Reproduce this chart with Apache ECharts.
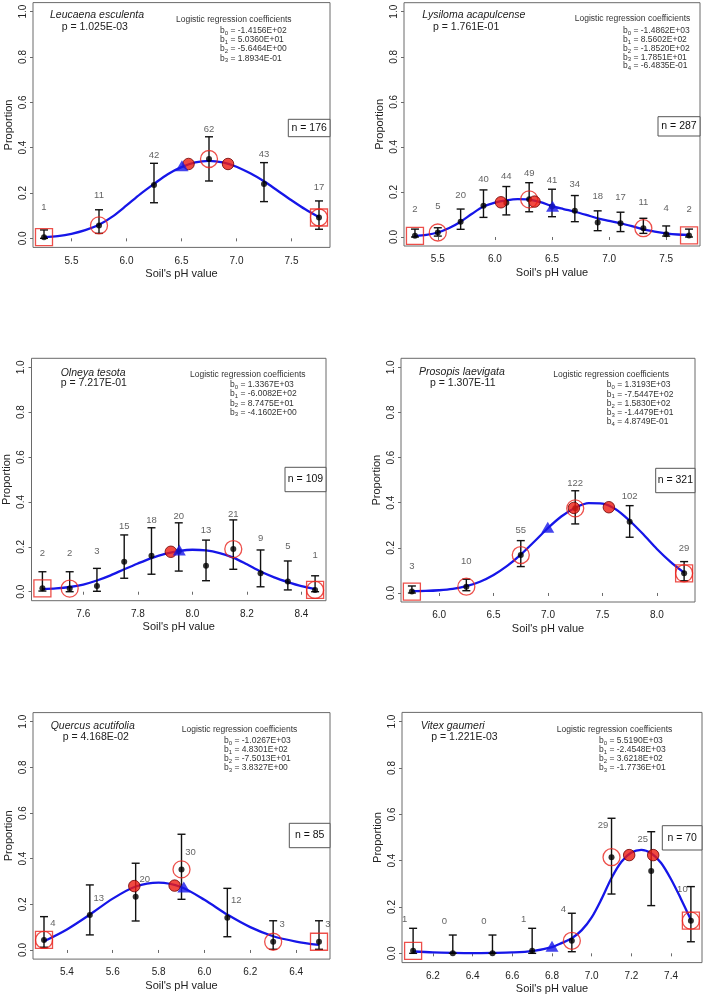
<!DOCTYPE html>
<html><head><meta charset="utf-8">
<script src="https://cdn.jsdelivr.net/npm/echarts@6/dist/echarts.min.js"></script>
<style>html,body{margin:0;padding:0;background:#fff}#c{width:709px;height:996px}</style>
</head><body><div id="c"></div>
<script>
// ---------- DATA ----------
const yTicks = [0, 0.2, 0.4, 0.6, 0.8, 1.0];

// Panel 1: Leucaena esculenta
const p1Species = 'Leucaena esculenta';
const p1P = 'p = 1.025E-03';
const p1Coef = ['-1.4156E+02', '5.0360E+01', '-5.6464E+00', '1.8934E-01'];
const p1N = 176;
const p1XTicks = [5.5, 6.0, 6.5, 7.0, 7.5];
const p1Ph = [5.25, 5.75, 6.25, 6.75, 7.25, 7.75];
const p1Obs = [0.005, 0.057, 0.235, 0.35, 0.24, 0.092];
const p1Lo = [0.0, 0.022, 0.157, 0.253, 0.162, 0.04];
const p1Hi = [0.037, 0.126, 0.331, 0.448, 0.334, 0.165];
const p1Count = [1, 11, 42, 62, 43, 17];
const p1CurveX = [5.25,5.375,5.5,5.625,5.75,5.875,6.0,6.125,6.25,6.375,6.5,6.625,6.75,6.875,7.0,7.125,7.25,7.375,7.5,7.625,7.75];
const p1CurveY = [0.005,0.01,0.02,0.036,0.06,0.097,0.145,0.195,0.24,0.283,0.314,0.335,0.342,0.335,0.316,0.287,0.252,0.21,0.168,0.128,0.093];
const p1Circled = [5.75, 6.75, 7.75];
const p1Boxed = [5.25, 7.75];
const p1PeakX = [6.564, 6.923];
const p1PeakY = [0.328, 0.328];
const p1TriX = [6.504];
const p1TriY = [0.32];

// Panel 2: Lysiloma acapulcense
const p2Species = 'Lysiloma acapulcense';
const p2P = 'p = 1.761E-01';
const p2Coef = ['-1.4862E+03', '8.5602E+02', '-1.8520E+02', '1.7851E+01', '-6.4835E-01'];
const p2N = 287;
const p2XTicks = [5.5, 6.0, 6.5, 7.0, 7.5];
const p2Ph = [5.3, 5.5, 5.7, 5.9, 6.1, 6.3, 6.5, 6.7, 6.9, 7.1, 7.3, 7.5, 7.7];
const p2Obs = [0.005, 0.02, 0.068, 0.139, 0.152, 0.167, 0.135, 0.116, 0.064, 0.061, 0.039, 0.012, 0.007];
const p2Lo = [0.0, 0.004, 0.034, 0.087, 0.098, 0.112, 0.09, 0.068, 0.028, 0.024, 0.016, 0.004, 0.0];
const p2Hi = [0.035, 0.041, 0.124, 0.209, 0.224, 0.241, 0.212, 0.184, 0.116, 0.11, 0.083, 0.049, 0.035];
const p2Count = [2, 5, 20, 40, 44, 49, 41, 34, 18, 17, 11, 4, 2];
const p2CurveX = [5.3,5.4,5.5,5.6,5.7,5.8,5.9,6.0,6.1,6.2,6.3,6.4,6.5,6.6,6.7,6.8,6.9,7.0,7.1,7.2,7.3,7.4,7.5,7.6,7.7];
const p2CurveY = [0.004,0.009,0.02,0.04,0.068,0.103,0.135,0.153,0.163,0.168,0.166,0.155,0.137,0.124,0.112,0.098,0.083,0.072,0.061,0.048,0.034,0.024,0.016,0.011,0.009];
const p2Circled = [5.5, 6.3, 7.3];
const p2Boxed = [5.3, 7.7];
const p2PeakX = [6.053, 6.347];
const p2PeakY = [0.154, 0.157];
const p2TriX = [6.505];
const p2TriY = [0.137];

// Panel 3: Olneya tesota
const p3Species = 'Olneya tesota';
const p3P = 'p = 7.217E-01';
const p3Coef = ['1.3367E+03', '-6.0082E+02', '8.7475E+01', '-4.1602E+00'];
const p3N = 109;
const p3XTicks = [7.6, 7.8, 8.0, 8.2, 8.4];
const p3Ph = [7.45, 7.55, 7.65, 7.75, 7.85, 7.95, 8.05, 8.15, 8.25, 8.35, 8.45];
const p3Obs = [0.015, 0.014, 0.025, 0.134, 0.16, 0.18, 0.116, 0.19, 0.082, 0.045, 0.008];
const p3Lo = [0.003, 0.0, 0.002, 0.06, 0.078, 0.092, 0.049, 0.1, 0.022, 0.008, 0.0];
const p3Hi = [0.089, 0.089, 0.104, 0.253, 0.285, 0.307, 0.23, 0.32, 0.186, 0.137, 0.071];
const p3Count = [2, 2, 3, 15, 18, 20, 13, 21, 9, 5, 1];
const p3CurveX = [7.45,7.5,7.55,7.6,7.65,7.7,7.75,7.8,7.85,7.9,7.95,8.0,8.05,8.1,8.15,8.2,8.25,8.3,8.35,8.4,8.45];
const p3CurveY = [0.012,0.015,0.021,0.032,0.05,0.073,0.1,0.126,0.15,0.169,0.181,0.187,0.184,0.172,0.152,0.122,0.09,0.064,0.043,0.025,0.012];
const p3Circled = [7.55, 8.15, 8.45];
const p3Boxed = [7.45, 8.45];
const p3PeakX = [7.921];
const p3PeakY = [0.178];
const p3TriX = [7.952];
const p3TriY = [0.186];

// Panel 4: Prosopis laevigata
const p4Species = 'Prosopis laevigata';
const p4P = 'p = 1.307E-11';
const p4Coef = ['1.3193E+03', '-7.5447E+02', '1.5830E+02', '-1.4479E+01', '4.8749E-01'];
const p4N = 321;
const p4XTicks = [6.0, 6.5, 7.0, 7.5, 8.0];
const p4Ph = [5.75, 6.25, 6.75, 7.25, 7.75, 8.25];
const p4Obs = [0.006, 0.028, 0.168, 0.375, 0.316, 0.087];
const p4Lo = [0.0, 0.01, 0.117, 0.306, 0.247, 0.054];
const p4Hi = [0.031, 0.061, 0.232, 0.453, 0.387, 0.139];
const p4Count = [3, 10, 55, 122, 102, 29];
const p4CurveX = [5.75,5.875,6.0,6.125,6.25,6.375,6.5,6.625,6.75,6.875,7.0,7.125,7.25,7.375,7.5,7.625,7.75,7.875,8.0,8.125,8.25];
const p4CurveY = [0.008,0.009,0.012,0.018,0.03,0.05,0.08,0.12,0.17,0.228,0.288,0.34,0.378,0.398,0.396,0.37,0.32,0.26,0.195,0.138,0.09];
const p4Circled = [6.25, 6.75, 7.25, 8.25];
const p4Boxed = [5.75, 8.25];
const p4PeakX = [7.238, 7.559];
const p4PeakY = [0.377, 0.38];
const p4TriX = [6.998];
const p4TriY = [0.291];

// Panel 5: Quercus acutifolia
const p5Species = 'Quercus acutifolia';
const p5P = 'p = 4.168E-02';
const p5Coef = ['-1.0267E+03', '4.8301E+02', '-7.5013E+01', '3.8327E+00'];
const p5N = 85;
const p5XTicks = [5.4, 5.6, 5.8, 6.0, 6.2, 6.4];
const p5Ph = [5.3, 5.5, 5.7, 5.9, 6.1, 6.3, 6.5];
const p5Obs = [0.044, 0.153, 0.233, 0.353, 0.141, 0.036, 0.036];
const p5Lo = [0.012, 0.066, 0.127, 0.222, 0.058, 0.003, 0.003];
const p5Hi = [0.146, 0.285, 0.38, 0.507, 0.27, 0.128, 0.128];
const p5Count = [4, 13, 20, 30, 12, 3, 3];
const p5CurveX = [5.3,5.4,5.5,5.6,5.7,5.8,5.9,6.0,6.1,6.2,6.3,6.4,6.5];
const p5CurveY = [0.038,0.09,0.155,0.225,0.278,0.295,0.275,0.22,0.155,0.1,0.06,0.037,0.022];
const p5Circled = [5.3, 5.9, 6.3];
const p5Boxed = [5.3, 6.5];
const p5PeakX = [5.694, 5.87];
const p5PeakY = [0.28, 0.282];
const p5TriX = [5.91];
const p5TriY = [0.276];

// Panel 6: Vitex gaumeri
const p6Species = 'Vitex gaumeri';
const p6P = 'p = 1.221E-03';
const p6Coef = ['5.5190E+03', '-2.4548E+03', '3.6218E+02', '-1.7736E+01'];
const p6N = 70;
const p6XTicks = [6.2, 6.4, 6.6, 6.8, 7.0, 7.2, 7.4];
const p6Ph = [6.1, 6.3, 6.5, 6.7, 6.9, 7.1, 7.3, 7.5];
const p6Obs = [0.011, 0.0, 0.0, 0.011, 0.054, 0.415, 0.355, 0.141];
const p6Lo = [0.0, 0.0, 0.0, 0.0, 0.007, 0.256, 0.206, 0.05];
const p6Hi = [0.108, 0.079, 0.079, 0.108, 0.173, 0.583, 0.525, 0.288];
const p6Count = [1, 0, 0, 1, 4, 29, 25, 10];
const p6CurveX = [6.1,6.2,6.3,6.4,6.5,6.6,6.7,6.8,6.85,6.9,6.95,7.0,7.05,7.1,7.15,7.2,7.25,7.3,7.35,7.4,7.45,7.5];
const p6CurveY = [0.008,0.004,0.002,0.001,0.002,0.004,0.01,0.027,0.045,0.065,0.1,0.155,0.235,0.325,0.395,0.435,0.447,0.432,0.39,0.32,0.235,0.145];
const p6Circled = [6.9, 7.1, 7.5];
const p6Boxed = [6.1, 7.5];
const p6PeakX = [7.189, 7.31];
const p6PeakY = [0.424, 0.424];
const p6TriX = [6.8];
const p6TriY = [0.031];

// ---------- LAYOUT / STYLE ----------
const FONT = '"Liberation Sans", Arial, Helvetica, sans-serif';
const layouts = [
  {box:[33, 2.6, 330, 247.4], xr:[5.15, 7.85], lab:{align:'center', off:[0,-30]},
   sp:[50,15], pv:[61.7,26.7], ct:[176,19.3], cf:[220,30.7,9.2], nb:[288.3,119.3,330,136.7]},
  {box:[404, 2.7, 700, 246], xr:[5.204, 7.796], lab:{align:'center', off:[0,-26]},
   sp:[422.3,15], pv:[433,26.7], ct:[574.7,19], cf:[623,30.7,8.85], nb:[658,116.7,700,136]},
  {box:[31.5, 358.3, 326, 600.7], xr:[7.41, 8.49], lab:{align:'center', off:[0,-35]},
   sp:[60.7,372.7], pv:[60.7,383.3], ct:[190,374.3], cf:[230,385,9.1], nb:[285,467.3,326,491.7]},
  {box:[401, 358.3, 695, 602], xr:[5.65, 8.35], lab:{align:'center', off:[0,-25]},
   sp:[419,371.7], pv:[430,383.3], ct:[553.3,374.3], cf:[606.7,385,9.2], nb:[655.7,468.3,695,492.7]},
  {box:[33, 712.6, 330, 959.1], xr:[5.252, 6.548], lab:{align:'center', off:[9,-17]},
   sp:[50.7,725.7], pv:[62.7,737.3], ct:[181.7,729.3], cf:[224,741,8.9], nb:[289.3,823.3,330,847.7]},
  {box:[402, 712.4, 702, 962.6], xr:[6.044, 7.556], lab:{align:'center', off:[-8.5,-31.7]},
   sp:[420.7,725.7], pv:[431.3,737.3], ct:[556.7,729.3], cf:[599,741,9], nb:[662.3,825.7,702,850]}
];

const panels = [
  {sp:p1Species,p:p1P,coef:p1Coef,n:p1N,xt:p1XTicks,ph:p1Ph,obs:p1Obs,lo:p1Lo,hi:p1Hi,cnt:p1Count,cx:p1CurveX,cy:p1CurveY,circ:p1Circled,boxd:p1Boxed,pkx:p1PeakX,pky:p1PeakY,tx:p1TriX,ty:p1TriY},
  {sp:p2Species,p:p2P,coef:p2Coef,n:p2N,xt:p2XTicks,ph:p2Ph,obs:p2Obs,lo:p2Lo,hi:p2Hi,cnt:p2Count,cx:p2CurveX,cy:p2CurveY,circ:p2Circled,boxd:p2Boxed,pkx:p2PeakX,pky:p2PeakY,tx:p2TriX,ty:p2TriY},
  {sp:p3Species,p:p3P,coef:p3Coef,n:p3N,xt:p3XTicks,ph:p3Ph,obs:p3Obs,lo:p3Lo,hi:p3Hi,cnt:p3Count,cx:p3CurveX,cy:p3CurveY,circ:p3Circled,boxd:p3Boxed,pkx:p3PeakX,pky:p3PeakY,tx:p3TriX,ty:p3TriY},
  {sp:p4Species,p:p4P,coef:p4Coef,n:p4N,xt:p4XTicks,ph:p4Ph,obs:p4Obs,lo:p4Lo,hi:p4Hi,cnt:p4Count,cx:p4CurveX,cy:p4CurveY,circ:p4Circled,boxd:p4Boxed,pkx:p4PeakX,pky:p4PeakY,tx:p4TriX,ty:p4TriY},
  {sp:p5Species,p:p5P,coef:p5Coef,n:p5N,xt:p5XTicks,ph:p5Ph,obs:p5Obs,lo:p5Lo,hi:p5Hi,cnt:p5Count,cx:p5CurveX,cy:p5CurveY,circ:p5Circled,boxd:p5Boxed,pkx:p5PeakX,pky:p5PeakY,tx:p5TriX,ty:p5TriY},
  {sp:p6Species,p:p6P,coef:p6Coef,n:p6N,xt:p6XTicks,ph:p6Ph,obs:p6Obs,lo:p6Lo,hi:p6Hi,cnt:p6Count,cx:p6CurveX,cy:p6CurveY,circ:p6Circled,boxd:p6Boxed,pkx:p6PeakX,pky:p6PeakY,tx:p6TriX,ty:p6TriY}
];

const AXC = '#6a6a6a', TXT = '#222', RED = '#e8231d', BLUE = '#1616e8';
const grids = [], xAxes = [], yAxes = [], series = [], graphics = [];
const zip = (a, b) => a.map((v, i) => [v, b[i]]);

panels.forEach((P, i) => {
  const L = layouts[i];
  const [x0, y0, x1, y1] = L.box;
  grids.push({left: x0, top: y0, width: x1 - x0, height: y1 - y0, show: true,
    borderColor: AXC, borderWidth: 1, backgroundColor: 'transparent',
    containLabel: false, outerBoundsMode: 'none'});
  xAxes.push({type: 'value', gridIndex: i, min: L.xr[0], max: L.xr[1],
    axisLine: {show: false}, splitLine: {show: false},
    axisTick: {show: true, customValues: P.xt, length: 3, lineStyle: {color: AXC}},
    axisLabel: {customValues: P.xt, formatter: v => v.toFixed(1), fontSize: 10, color: TXT, fontFamily: FONT, margin: 8.5},
    name: "Soil's pH value", nameLocation: 'middle', nameGap: 21, nameMoveOverlap: false,
    nameTextStyle: {fontSize: 11, color: TXT, fontFamily: FONT}});
  yAxes.push({type: 'value', gridIndex: i, min: -0.04, max: 1.04,
    axisLine: {show: false}, splitLine: {show: false},
    axisTick: {show: true, customValues: yTicks, length: 3, lineStyle: {color: AXC}},
    axisLabel: {customValues: yTicks, rotate: 90, formatter: v => v.toFixed(1), fontSize: 10, color: TXT, fontFamily: FONT, margin: 5},
    name: 'Proportion', nameLocation: 'middle', nameGap: 19, nameMoveOverlap: false,
    nameTextStyle: {fontSize: 11, color: TXT, fontFamily: FONT}});

  const obsAt = x => P.obs[P.ph.indexOf(x)];
  // fitted curve
  series.push({type: 'line', xAxisIndex: i, yAxisIndex: i, data: zip(P.cx, P.cy), smooth: 0.3,
    symbol: 'none', lineStyle: {color: BLUE, width: 2.3}, z: 2, silent: true, animation: false});
  // error bars
  series.push({type: 'custom', xAxisIndex: i, yAxisIndex: i, z: 3, animation: false,
    data: P.ph.map((x, k) => [x, P.lo[k], P.hi[k]]),
    encode: {x: 0, y: [1, 2]},
    renderItem: (params, api) => {
      const a = api.coord([api.value(0), api.value(1)]);
      const b = api.coord([api.value(0), api.value(2)]);
      const w = 4, st = {stroke: '#111', lineWidth: 1.4};
      return {type: 'group', children: [
        {type: 'line', shape: {x1: a[0], y1: a[1], x2: b[0], y2: b[1]}, style: st},
        {type: 'line', shape: {x1: a[0] - w, y1: a[1], x2: a[0] + w, y2: a[1]}, style: st},
        {type: 'line', shape: {x1: b[0] - w, y1: b[1], x2: b[0] + w, y2: b[1]}, style: st}
      ]};
    }});
  // observed points
  series.push({type: 'scatter', xAxisIndex: i, yAxisIndex: i, data: zip(P.ph, P.obs), symbolSize: 6,
    itemStyle: {color: '#000'}, z: 4, animation: false});
  // hollow circles
  series.push({type: 'scatter', xAxisIndex: i, yAxisIndex: i, data: P.circ.map(x => [x, obsAt(x)]),
    symbol: 'circle', symbolSize: 17, itemStyle: {color: 'rgba(0,0,0,0)', borderColor: RED, borderWidth: 1.3}, z: 5, animation: false});
  // squares
  series.push({type: 'scatter', xAxisIndex: i, yAxisIndex: i, data: P.boxd.map(x => [x, obsAt(x)]),
    symbol: 'rect', symbolSize: 17, itemStyle: {color: 'rgba(0,0,0,0)', borderColor: RED, borderWidth: 1.3}, z: 5, animation: false});
  // filled red
  series.push({type: 'scatter', xAxisIndex: i, yAxisIndex: i, data: zip(P.pkx, P.pky),
    symbol: 'circle', symbolSize: 11.5, itemStyle: {color: '#ee1b12', borderColor: '#6e0000', borderWidth: 1}, z: 6, animation: false});
  // blue triangle
  series.push({type: 'scatter', xAxisIndex: i, yAxisIndex: i, data: zip(P.tx, P.ty),
    symbol: 'triangle', symbolSize: [13, 11], itemStyle: {color: BLUE}, z: 7, animation: false});
  // count labels
  series.push({type: 'scatter', xAxisIndex: i, yAxisIndex: i, data: zip(P.ph, P.obs), symbolSize: 1,
    itemStyle: {color: 'rgba(0,0,0,0)'}, z: 8, animation: false, silent: true,
    label: {show: true, position: 'inside', offset: L.lab.off, align: L.lab.align, verticalAlign: 'middle',
      formatter: p => String(P.cnt[p.dataIndex]), fontSize: 9.5, color: '#3a3a3a', fontFamily: FONT}});

  // text annotations
  graphics.push({type: 'text', x: L.sp[0], y: L.sp[1], z: 20,
    style: {text: P.sp, fontSize: 10.5, fontStyle: 'italic', fontFamily: FONT, fill: TXT, align: 'left', verticalAlign: 'middle'}});
  graphics.push({type: 'text', x: L.pv[0], y: L.pv[1], z: 20,
    style: {text: P.p, fontSize: 10.5, fontFamily: FONT, fill: TXT, align: 'left', verticalAlign: 'middle'}});
  graphics.push({type: 'text', x: L.ct[0], y: L.ct[1], z: 20,
    style: {text: 'Logistic regression coefficients', fontSize: 8.5, fontFamily: FONT, fill: '#333', align: 'left', verticalAlign: 'middle'}});
  P.coef.forEach((c, k) => {
    graphics.push({type: 'text', x: L.cf[0], y: L.cf[1] + k * L.cf[2], z: 20,
      style: {text: 'b{s|' + k + '} = ' + c, fontSize: 8.5, fontFamily: FONT, fill: '#333', align: 'left', verticalAlign: 'middle',
        lineHeight: 11,
        rich: {s: {fontSize: 6, fontFamily: FONT, fill: '#333', verticalAlign: 'bottom', lineHeight: 7}}}});
  });
  const [bx0, by0, bx1, by1] = L.nb;
  graphics.push({type: 'rect', z: 20, shape: {x: bx0, y: by0, width: bx1 - bx0, height: by1 - by0},
    style: {fill: '#fff', stroke: '#555', lineWidth: 1}});
  graphics.push({type: 'text', x: (bx0 + bx1) / 2, y: (by0 + by1) / 2, z: 21,
    style: {text: 'n = ' + P.n, fontSize: 10.5, fontFamily: FONT, fill: '#111', align: 'center', verticalAlign: 'middle'}});
});

const chart = echarts.init(document.getElementById('c'), null, {renderer: 'canvas'});
chart.setOption({
  backgroundColor: '#fff',
  animation: false,
  grid: grids, xAxis: xAxes, yAxis: yAxes, series: series, graphic: graphics
});
</script></body></html>
